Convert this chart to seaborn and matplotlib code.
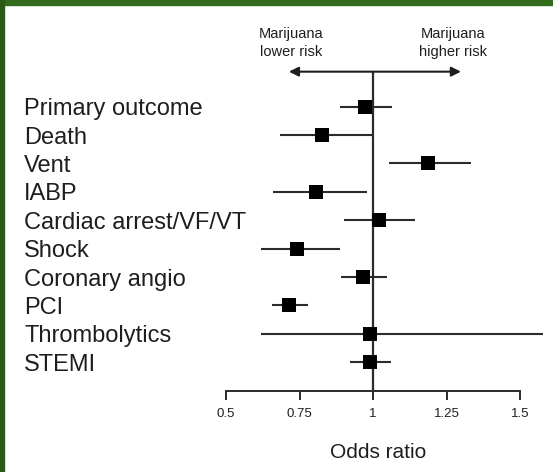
import pandas as pd
import matplotlib
matplotlib.use('Agg')
import matplotlib.pyplot as plt
import seaborn as sns
from matplotlib.patches import Rectangle

outcomes = ['Primary outcome', 'Death', 'Vent', 'IABP', 'Cardiac arrest/VF/VT',
            'Shock', 'Coronary angio', 'PCI', 'Thrombolytics', 'STEMI']
odds_ratio = [0.973, 0.828, 1.186, 0.805, 1.021, 0.740, 0.965, 0.715, 0.990, 0.990]
ci_low = [0.888, 0.684, 1.054, 0.659, 0.901, 0.618, 0.892, 0.658, 0.619, 0.922]
ci_high = [1.066, 0.998, 1.332, 0.979, 1.143, 0.888, 1.047, 0.778, 1.577, 1.061]
tick_values = [0.5, 0.75, 1, 1.25, 1.5]
tick_labels = ['0.5', '0.75', '1', '1.25', '1.5']

df = pd.DataFrame({'Outcome': outcomes, 'OR': odds_ratio, 'Low': ci_low, 'High': ci_high})
df['Row'] = range(len(df))

sns.set_style('white')
plt.rcParams['font.family'] = ['Liberation Sans', 'DejaVu Sans']

fig = plt.figure(figsize=(5.53, 4.72), dpi=100)
ax = fig.add_axes([0.4087, 0.1725, 0.5848, 0.6856])

line_col = '#2b2b2b'
text_col = '#1e1e1e'

# confidence intervals
ax.hlines(df['Row'], df['Low'], df['High'], color=line_col, lw=1.5, clip_on=False, zorder=2)
# no-effect line
ax.vlines(1, -1.235, 10, color=line_col, lw=1.6, clip_on=False, zorder=1)

sns.scatterplot(data=df, x='OR', y='Row', marker='s', s=105, color='black',
                edgecolor='black', linewidth=0, ax=ax, zorder=3, clip_on=False, legend=False)

ax.set_xlim(0.5, 1.6)
ax.set_ylim(10, -1.4)

# direction arrow and labels
ax.annotate('', xy=(0.714, -1.235), xytext=(1.299, -1.235),
            arrowprops=dict(arrowstyle='<|-|>', color='#1e1e1e', lw=1.5,
                            shrinkA=0, shrinkB=0, mutation_scale=14),
            annotation_clip=False)
ax.text(0.721, -2.25, 'Marijuana\nlower risk', ha='center', va='center',
        fontsize=10.5, linespacing=1.35, color=text_col, clip_on=False)
ax.text(1.272, -2.25, 'Marijuana\nhigher risk', ha='center', va='center',
        fontsize=10.5, linespacing=1.35, color=text_col, clip_on=False)

ax.set_yticks(df['Row'])
ax.set_yticklabels(df['Outcome'], ha='left', fontsize=17, color=text_col)
ax.tick_params(axis='y', length=0, pad=145.4)

ax.set_xticks(tick_values)
ax.set_xticklabels(tick_labels, fontsize=9.5, color=text_col)
ax.tick_params(axis='x', direction='out', length=6.5, width=1.4, color=line_col,
               pad=6, bottom=True)

ax.set_xlabel('Odds ratio', fontsize=15, color=text_col)
ax.xaxis.set_label_coords(0.47, -0.19)
ax.xaxis.label.set_va('center')
ax.set_ylabel('')

for side in ['top', 'right', 'left']:
    ax.spines[side].set_visible(False)
ax.spines['bottom'].set_bounds(0.5, 1.5)
ax.spines['bottom'].set_color(line_col)
ax.spines['bottom'].set_linewidth(1.4)
ax.grid(False)

# green frame from the slide
fig.add_artist(Rectangle((0, 1 - 5 / 472), 1, 5 / 472, transform=fig.transFigure,
                         color='#336b1f', zorder=10))
fig.add_artist(Rectangle((0, 0), 4 / 553, 1, transform=fig.transFigure,
                         color='#2a5a16', zorder=10))

fig.savefig('out.png', dpi=100)
